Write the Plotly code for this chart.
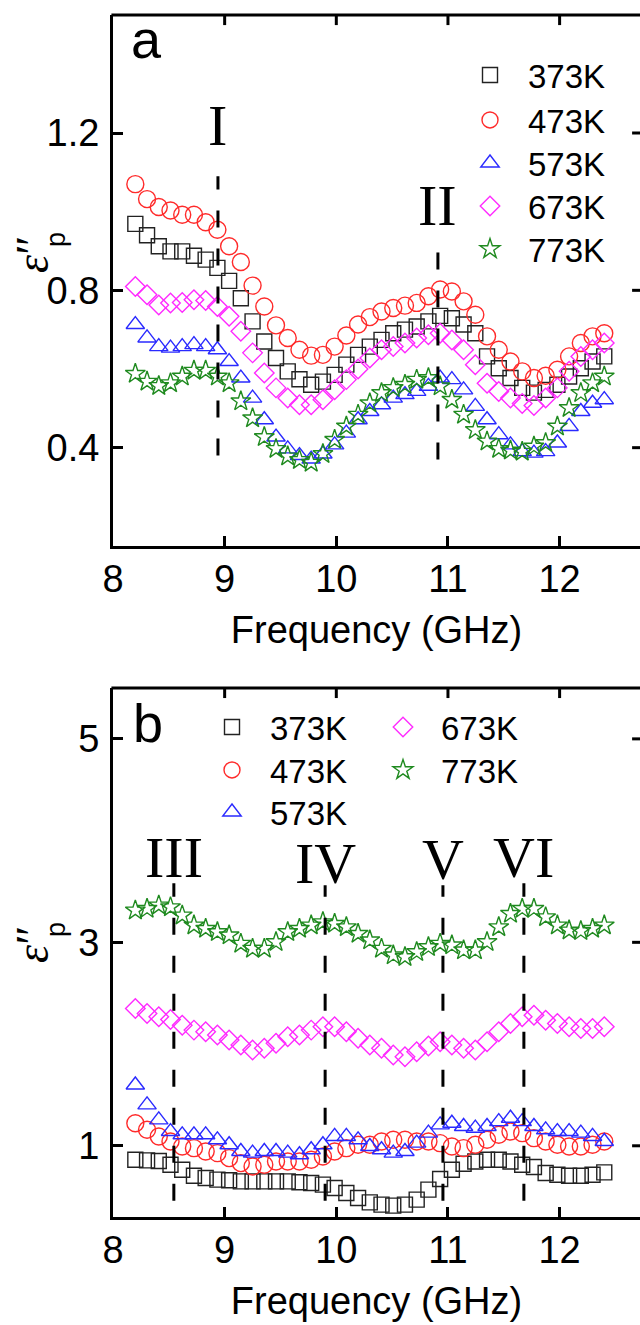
import plotly.graph_objects as go

freq = [8.2, 8.305, 8.41, 8.515, 8.62, 8.725, 8.83, 8.935, 9.04, 9.145, 9.25,
        9.355, 9.46, 9.565, 9.67, 9.775, 9.88, 9.985, 10.09, 10.195, 10.3,
        10.405, 10.51, 10.615, 10.72, 10.825, 10.93, 11.035, 11.14, 11.245, 11.35,
        11.455, 11.56, 11.665, 11.77, 11.875, 11.98, 12.085, 12.19, 12.295, 12.4]

labels = ["373K", "473K", "573K", "673K", "773K"]

# panel a
a373 = [0.969, 0.940, 0.912, 0.899, 0.899, 0.888, 0.878, 0.857, 0.824, 0.780, 0.721, 0.670, 0.628, 0.594, 0.574, 0.560, 0.568, 0.585, 0.611, 0.636, 0.657, 0.674, 0.691, 0.700, 0.708, 0.721, 0.735, 0.729, 0.713, 0.691, 0.632, 0.602, 0.577, 0.552, 0.540, 0.547, 0.560, 0.581, 0.602, 0.619, 0.632]
a473 = [1.070, 1.032, 1.012, 1.003, 0.992, 0.992, 0.973, 0.954, 0.912, 0.872, 0.812, 0.759, 0.711, 0.679, 0.649, 0.634, 0.636, 0.657, 0.685, 0.713, 0.732, 0.746, 0.755, 0.761, 0.768, 0.785, 0.802, 0.797, 0.772, 0.738, 0.683, 0.649, 0.619, 0.594, 0.577, 0.583, 0.598, 0.632, 0.666, 0.683, 0.691]
a573 = [0.713, 0.679, 0.657, 0.653, 0.657, 0.662, 0.657, 0.649, 0.619, 0.577, 0.526, 0.471, 0.427, 0.397, 0.380, 0.371, 0.384, 0.407, 0.437, 0.471, 0.492, 0.509, 0.526, 0.535, 0.543, 0.556, 0.577, 0.573, 0.547, 0.505, 0.471, 0.433, 0.407, 0.390, 0.386, 0.390, 0.412, 0.454, 0.492, 0.513, 0.522]
a673 = [0.810, 0.789, 0.763, 0.768, 0.769, 0.776, 0.774, 0.759, 0.734, 0.696, 0.641, 0.590, 0.552, 0.526, 0.509, 0.509, 0.522, 0.547, 0.573, 0.600, 0.628, 0.649, 0.657, 0.666, 0.679, 0.687, 0.691, 0.674, 0.649, 0.611, 0.564, 0.543, 0.526, 0.512, 0.507, 0.526, 0.552, 0.594, 0.632, 0.649, 0.666]
a773 = [0.588, 0.568, 0.557, 0.564, 0.581, 0.596, 0.596, 0.581, 0.564, 0.518, 0.475, 0.427, 0.397, 0.378, 0.369, 0.362, 0.384, 0.420, 0.454, 0.484, 0.513, 0.539, 0.552, 0.560, 0.573, 0.577, 0.556, 0.522, 0.484, 0.445, 0.416, 0.397, 0.393, 0.390, 0.403, 0.412, 0.454, 0.501, 0.539, 0.564, 0.581]

# panel b
b373 = [0.863, 0.857, 0.850, 0.814, 0.765, 0.706, 0.683, 0.667, 0.661, 0.650, 0.650, 0.650, 0.650, 0.650, 0.641, 0.634, 0.618, 0.585, 0.536, 0.487, 0.444, 0.422, 0.412, 0.422, 0.471, 0.569, 0.673, 0.765, 0.824, 0.846, 0.863, 0.863, 0.846, 0.814, 0.791, 0.732, 0.716, 0.706, 0.706, 0.716, 0.739]
b473 = [1.222, 1.157, 1.092, 1.042, 0.993, 0.977, 0.944, 0.928, 0.879, 0.830, 0.797, 0.814, 0.846, 0.846, 0.846, 0.863, 0.895, 0.944, 0.977, 1.010, 1.010, 1.042, 1.059, 1.059, 1.042, 1.042, 1.026, 0.993, 0.977, 1.010, 1.059, 1.108, 1.140, 1.124, 1.075, 1.042, 1.010, 0.993, 0.993, 1.010, 1.042]
b573 = [1.598, 1.402, 1.255, 1.140, 1.108, 1.108, 1.108, 1.059, 1.010, 0.944, 0.928, 0.944, 0.944, 0.928, 0.912, 0.961, 1.010, 1.092, 1.092, 1.059, 0.993, 0.961, 0.928, 0.944, 1.026, 1.124, 1.206, 1.222, 1.190, 1.173, 1.190, 1.238, 1.271, 1.238, 1.190, 1.157, 1.140, 1.140, 1.124, 1.092, 1.042]
b673 = [2.350, 2.301, 2.268, 2.242, 2.186, 2.137, 2.121, 2.088, 2.039, 1.990, 1.941, 1.958, 2.007, 2.072, 2.088, 2.137, 2.170, 2.170, 2.121, 2.056, 1.990, 1.958, 1.892, 1.875, 1.925, 1.980, 2.023, 1.990, 1.958, 1.941, 2.023, 2.121, 2.203, 2.268, 2.284, 2.235, 2.203, 2.170, 2.154, 2.154, 2.170]
b773 = [3.314, 3.330, 3.363, 3.346, 3.265, 3.167, 3.134, 3.101, 3.069, 2.987, 2.938, 2.938, 3.003, 3.101, 3.134, 3.167, 3.199, 3.183, 3.150, 3.085, 3.020, 2.938, 2.873, 2.856, 2.905, 2.954, 2.987, 2.971, 2.922, 2.922, 3.003, 3.150, 3.281, 3.330, 3.330, 3.248, 3.167, 3.118, 3.111, 3.134, 3.167]

ticks_a = [0.4, 0.8, 1.2]
ticks_b = [1, 3, 5]
ticks_x = [8, 9, 10, 11, 12]

# vertical marker lines: (label, frequency, y_bottom, y_top, label_y)
marks_a = [("I", 8.94, 0.38, 1.09, 1.22), ("II", 10.91, 0.37, 0.90, 1.015)]
marks_b = [("III", 8.545, 0.46, 3.58, 3.83), ("IV", 9.90, 0.46, 3.56, 3.77),
           ("V", 10.955, 0.46, 3.56, 3.81), ("VI", 11.68, 0.46, 3.58, 3.83)]

colors = ["#222222", "#ff2a2a", "#2a2aff", "#ff2aff", "#1f8a1f"]
symbols = ["square-open", "circle-open", "triangle-up-open", "diamond-open", "star-open"]
sizes = [15, 17, 16, 15, 15]

SANS = "Liberation Sans, Arial, sans-serif"
SERIF = "Liberation Serif, Times New Roman, serif"
H = 1325.0
PL, PW = 113.0, 527.0


def py(p):
    return 1 - p / H


def px(p):
    return (p - PL) / PW


# legend layout (pixel positions of symbol centre / row centre)
leg_a_rows = [73, 118, 161, 204, 247]
leg_a_x = 490
leg_b_pos = [(232, 725), (232, 768), (232, 810), (403, 725), (403, 768)]

fig = go.Figure()
series_a = [a373, a473, a573, a673, a773]
series_b = [b373, b473, b573, b673, b773]

legends = {}
for i, (lab, ys) in enumerate(zip(labels, series_a)):
    name = "legend" if i == 0 else f"legend{i + 1}"
    fig.add_trace(go.Scatter(
        x=freq, y=ys, mode="markers", name=lab, xaxis="x", yaxis="y", legend=name,
        marker=dict(symbol=symbols[i], size=sizes[i], color=colors[i],
                    line=dict(width=1.4, color=colors[i]))))
    legends[name] = (leg_a_x, leg_a_rows[i])

for i, (lab, ys) in enumerate(zip(labels, series_b)):
    name = f"legend{i + 6}"
    fig.add_trace(go.Scatter(
        x=freq, y=ys, mode="markers", name=lab, xaxis="x2", yaxis="y2", legend=name,
        marker=dict(symbol=symbols[i], size=sizes[i], color=colors[i],
                    line=dict(width=1.4, color=colors[i]))))
    legends[name] = leg_b_pos[i]

shapes = []
annotations = []
dash = "17px,21px"
for lab, fx, y0, y1, ly in marks_a:
    shapes.append(dict(type="line", xref="x", yref="y", x0=fx, x1=fx, y0=y0, y1=y1,
                       line=dict(color="black", width=3, dash=dash)))
    annotations.append(dict(text=lab, xref="x", yref="y", x=fx, y=ly, showarrow=False,
                            xanchor="center", yanchor="middle",
                            font=dict(family=SERIF, size=58, color="black")))
for lab, fx, y0, y1, ly in marks_b:
    shapes.append(dict(type="line", xref="x2", yref="y2", x0=fx, x1=fx, y0=y0, y1=y1,
                       line=dict(color="black", width=3, dash=dash)))
    annotations.append(dict(text=lab, xref="x2", yref="y2", x=fx, y=ly, showarrow=False,
                            xanchor="center", yanchor="middle",
                            font=dict(family=SERIF, size=58, color="black")))

# frame: top spine with inward ticks, inward ticks on the right
# (the right spine itself lies just outside the picture)
for xa, ya, tv in (("x", "y", ticks_a), ("x2", "y2", ticks_b)):
    shapes.append(dict(type="line", xref=f"{xa} domain", yref=f"{ya} domain",
                       x0=-0.003, x1=1.0, y0=1, y1=1, line=dict(color="black", width=3)))
    for t in ticks_x[1:]:
        shapes.append(dict(type="line", xref=xa, yref=f"{ya} domain", x0=t, x1=t,
                           y0=1, y1=0.981, line=dict(color="black", width=3)))
    for t in tv:
        shapes.append(dict(type="line", xref=f"{xa} domain", yref=ya, x0=0.985, x1=1.0,
                           y0=t, y1=t, line=dict(color="black", width=3)))

# panel letters
annotations.append(dict(text="a", xref="paper", yref="paper", x=px(129), y=py(39),
                        xanchor="left", yanchor="middle", showarrow=False,
                        font=dict(family=SANS, size=54, color="black")))
annotations.append(dict(text="b", xref="paper", yref="paper", x=px(131), y=py(723),
                        xanchor="left", yanchor="middle", showarrow=False,
                        font=dict(family=SANS, size=54, color="black")))

# y titles: ε″ with subscript p under the double prime
for yc in (255, 945):
    annotations.append(dict(text="<i>ε</i>″", xref="paper", yref="paper", x=px(33), y=py(yc),
                            xanchor="center", yanchor="middle", textangle=-90, showarrow=False,
                            font=dict(family=SERIF, size=46, color="black")))
    annotations.append(dict(text="p", xref="paper", yref="paper", x=px(56), y=py(yc - 15),
                            xanchor="center", yanchor="middle", textangle=-90, showarrow=False,
                            font=dict(family=SANS, size=27, color="black")))

tickfont = dict(family=SANS, size=38, color="black")
common_x = dict(range=[8, 12.72], tickvals=ticks_x, ticks="inside", ticklen=10,
                tickwidth=3, tickcolor="black", showline=True, linewidth=3, linecolor="black",
                mirror=False, showgrid=False, zeroline=False, tickfont=tickfont,
                ticklabelstandoff=-3,
                title=dict(text="Frequency (GHz)", font=dict(family=SANS, size=38, color="black"),
                           standoff=18))
common_y = dict(ticks="inside", ticklen=10, tickwidth=3, tickcolor="black", showline=True,
                linewidth=3, linecolor="black", showgrid=False, zeroline=False, mirror=False,
                tickfont=tickfont, ticklabelstandoff=3)

dom_a = [py(546), py(15)]
dom_b = [py(1217), py(688)]

legfont = dict(family=SANS, size=33, color="black")
leg_layout = {}
for name, (sx, sy) in legends.items():
    leg_layout[name] = dict(font=legfont, bgcolor="rgba(0,0,0,0)", borderwidth=0, itemwidth=66,
                            xref="paper", yref="paper", xanchor="left", yanchor="top",
                            orientation="v", x=px(sx - 38), y=py(sy - 26))

fig.update_layout(
    width=640, height=1325,
    margin=dict(l=113, r=0, t=0, b=0),
    paper_bgcolor="white", plot_bgcolor="white",
    showlegend=True,
    xaxis=dict(domain=[0, 1], anchor="y", **common_x),
    yaxis=dict(domain=dom_a, anchor="x", range=[0.15, 1.5], tickvals=ticks_a,
               ticktext=["0.4", "0.8", "1.2"], **common_y),
    xaxis2=dict(domain=[0, 1], anchor="y2", **common_x),
    yaxis2=dict(domain=dom_b, anchor="x2", range=[0.3, 5.5], tickvals=ticks_b, **common_y),
    shapes=shapes,
    annotations=annotations,
    **leg_layout,
)

fig.write_html("out.html")
